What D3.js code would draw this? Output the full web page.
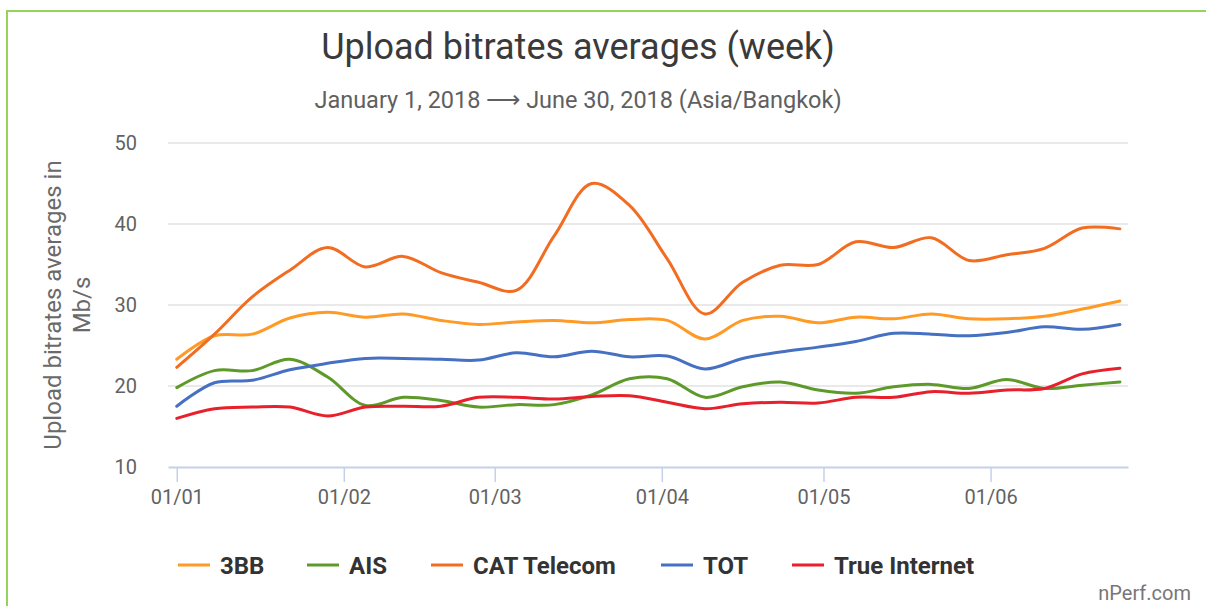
<!DOCTYPE html>
<html>
<head>
<meta charset="utf-8">
<script src="https://cdn.jsdelivr.net/npm/d3@7"></script>
<style>
  body { margin: 0; background: #fff; }
  svg { display: block; font-family: Roboto, "Noto Sans", sans-serif; }
</style>
</head>
<body>
<div id="chart"></div>
<script>
// weekly samples, starting Monday 1 Jan 2018
const weeks = d3.range(26).map(k => new Date(2018, 0, 1 + 7 * k));

const seriesNames = ["3BB", "AIS", "CAT Telecom", "TOT", "True Internet"];
const seriesColors = ["#ff9a26", "#5e9a2a", "#f26d21", "#4670c2", "#e8202b"];

const values3BB = [23.3, 26.2, 26.4, 28.4, 29.1, 28.5, 28.9, 28.1, 27.6, 27.9, 28.1, 27.8, 28.2,
    28.1, 25.8, 28.1, 28.6, 27.8, 28.5, 28.3, 28.9, 28.3, 28.3, 28.6, 29.5, 30.5];
const valuesAIS = [19.8, 21.9, 21.9, 23.3, 21.1, 17.6, 18.6, 18.2, 17.4, 17.7, 17.7, 18.9, 20.9,
    20.9, 18.6, 19.9, 20.5, 19.5, 19.1, 19.9, 20.2, 19.7, 20.8, 19.7, 20.1, 20.5];
const valuesCAT = [22.3, 26.4, 31.0, 34.3, 37.1, 34.7, 36.0, 34.0, 32.8, 31.8, 38.5, 45.0, 42.3,
    35.7, 28.9, 32.8, 34.9, 35.0, 37.8, 37.1, 38.3, 35.5, 36.2, 37.0, 39.5, 39.4];
const valuesTOT = [17.5, 20.4, 20.7, 22.0, 22.8, 23.4, 23.4, 23.3, 23.2, 24.1, 23.6, 24.3, 23.6,
    23.7, 22.1, 23.4, 24.2, 24.8, 25.5, 26.5, 26.4, 26.2, 26.6, 27.3, 27.0, 27.6];
const valuesTrue = [16.0, 17.2, 17.4, 17.4, 16.3, 17.4, 17.5, 17.5, 18.6, 18.6, 18.4, 18.7, 18.8,
    18.0, 17.2, 17.8, 18.0, 17.9, 18.6, 18.6, 19.3, 19.1, 19.5, 19.7, 21.5, 22.2];

const yTicks = [10, 20, 30, 40, 50];

const allValues = [values3BB, valuesAIS, valuesCAT, valuesTOT, valuesTrue];

const width = 1206, height = 606;
const plot = { left: 168, right: 1128, top: 143, bottom: 467 };

const svg = d3.select("#chart").append("svg")
    .attr("width", width)
    .attr("height", height);

// green frame around the card
svg.append("rect")
    .attr("x", 7).attr("y", 11)
    .attr("width", width + 20).attr("height", height + 20)
    .attr("fill", "none")
    .attr("stroke", "#95d35c")
    .attr("stroke-width", 2);

const x = d3.scaleTime()
    .domain([new Date(2017, 11, 30, 9), new Date(2018, 5, 26, 12)])
    .range([plot.left, plot.right]);

const y = d3.scaleLinear()
    .domain([10, 50])
    .range([plot.bottom, plot.top]);

// title
svg.append("text")
    .attr("x", 578).attr("y", 59)
    .attr("text-anchor", "middle")
    .attr("fill", "#3a3a3a")
    .style("font-size", "36px")
    .text("Upload bitrates averages (week)");

svg.append("text")
    .attr("x", 578).attr("y", 108)
    .attr("text-anchor", "middle")
    .attr("fill", "#5f5f5f")
    .style("font-size", "23.5px")
    .text("January 1, 2018 \u27F6 June 30, 2018 (Asia/Bangkok)");

// horizontal gridlines
svg.append("g")
    .selectAll("line")
    .data(yTicks.filter(d => d !== 10))
    .join("line")
    .attr("x1", plot.left).attr("x2", plot.right)
    .attr("y1", d => y(d)).attr("y2", d => y(d))
    .attr("stroke", "#e2e2e2")
    .attr("stroke-width", 1.5);

// y axis labels
const yAxis = svg.append("g")
    .attr("transform", `translate(${plot.left},0)`)
    .call(d3.axisLeft(y).tickValues(yTicks).tickSize(0).tickPadding(31));
yAxis.select(".domain").remove();
yAxis.selectAll("text")
    .attr("fill", "#626262")
    .style("font-size", "20px")
    .style("font-family", "Roboto, sans-serif");

// y axis title
const yTitle = svg.append("text")
    .attr("transform", "translate(0,305) rotate(-90)")
    .attr("text-anchor", "middle")
    .attr("fill", "#6a6a6a")
    .style("font-size", "24px");
yTitle.append("tspan").attr("x", 0).attr("y", 61).text("Upload bitrates averages in");
yTitle.append("tspan").attr("x", 0).attr("y", 90).text("Mb/s");

// x axis
const xAxis = svg.append("g")
    .attr("transform", `translate(0,${plot.bottom})`)
    .call(d3.axisBottom(x)
        .ticks(d3.timeMonth.every(1))
        .tickFormat(d3.timeFormat("%d/%m"))
        .tickSizeInner(15)
        .tickSizeOuter(0)
        .tickPadding(8));
xAxis.select(".domain")
    .attr("stroke", "#c6d0ea")
    .attr("stroke-width", 2);
xAxis.selectAll(".tick line")
    .attr("stroke", "#c6d0ea")
    .attr("stroke-width", 1.5);
xAxis.selectAll("text")
    .attr("fill", "#626262")
    .style("font-size", "20px")
    .style("font-family", "Roboto, sans-serif");

// lines
const line = d3.line()
    .x((d, i) => x(weeks[i]))
    .y(d => y(d))
    .curve(d3.curveCatmullRom.alpha(0.5));

svg.append("g")
    .selectAll("path")
    .data(allValues)
    .join("path")
    .attr("d", line)
    .attr("fill", "none")
    .attr("stroke", (d, i) => seriesColors[i])
    .attr("stroke-width", 3)
    .attr("stroke-linejoin", "round")
    .attr("stroke-linecap", "round");

// legend
const legendX = [178, 307, 431, 661, 792];
const legend = svg.append("g")
    .selectAll("g")
    .data(seriesNames)
    .join("g")
    .attr("transform", (d, i) => `translate(${legendX[i]},565)`);
legend.append("line")
    .attr("x1", 0).attr("x2", 32)
    .attr("stroke", (d, i) => seriesColors[i])
    .attr("stroke-width", 3);
legend.append("text")
    .attr("x", 42).attr("dy", "0.36em")
    .attr("fill", "#333")
    .style("font-size", "24px")
    .style("font-weight", "bold")
    .text(d => d);

svg.append("text")
    .attr("x", 1191).attr("y", 600)
    .attr("text-anchor", "end")
    .attr("fill", "#777")
    .style("font-size", "20px")
    .text("nPerf.com");
</script>
</body>
</html>
